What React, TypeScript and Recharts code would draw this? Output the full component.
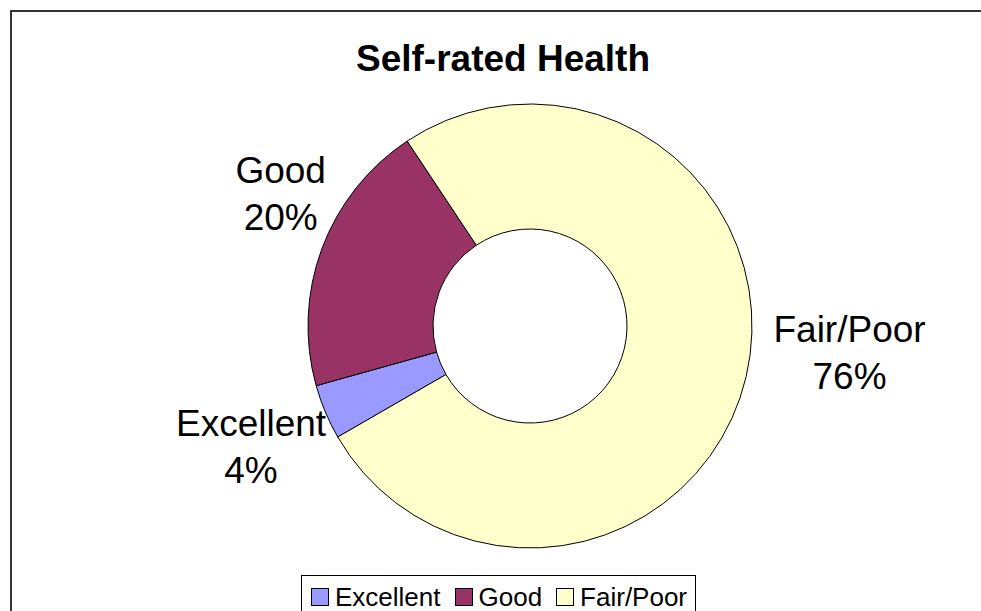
import React from "react";
import { PieChart, Pie, Cell, Legend } from "recharts";

const categories = ["Excellent", "Good", "Fair/Poor"];
const shares = [4, 20, 76];
const colors = ["#9999FF", "#993366", "#FFFFCC"];
const title = "Self-rated Health";

const data = categories.map((name, i) => ({ name, value: shares[i] }));

const FONT = "'Liberation Sans', Arial, Helvetica, sans-serif";
const RAD = Math.PI / 180;
// label layout nudges (Excel-like outside placement)
const LABEL_NUDGE: Record<string, [number, number]> = {
  Excellent: [-19, 25],
  Good: [15, -21],
  "Fair/Poor": [45, -24],
};

const renderLabel = (props: any) => {
  const { cx, cy, midAngle, outerRadius, name, value } = props;
  const r = outerRadius + 60;
  const nudge = LABEL_NUDGE[name] || [0, 0];
  const x = cx + r * Math.cos(-midAngle * RAD) + nudge[0];
  const y = cy + r * Math.sin(-midAngle * RAD) + nudge[1];
  return (
    <text
      x={x}
      y={y}
      textAnchor="middle"
      fontFamily={FONT}
      fontSize={37}
      fill="#000"
    >
      <tspan x={x} y={y - 24}>{name}</tspan>
      <tspan x={x} y={y + 23}>{`${value}%`}</tspan>
    </text>
  );
};

const renderLegend = (props: any) => {
  const payload = [...(props.payload || [])].sort(
    (a: any, b: any) => categories.indexOf(a.value) - categories.indexOf(b.value)
  );
  return (
    <div
      style={{
        boxSizing: "border-box",
        width: 395,
        height: 50,
        border: "1px solid #000",
        background: "#fff",
        display: "flex",
        alignItems: "center",
        paddingLeft: 9,
        alignContent: "flex-start",
      }}
    >
      <div style={{ display: "flex", alignItems: "center", height: 30, marginTop: -6 }}>
        {payload.map((p: any, i: number) => (
          <div key={i} style={{ display: "flex", alignItems: "center", marginRight: 14 }}>
            <span
              style={{
                display: "inline-block",
                boxSizing: "border-box",
                width: 18,
                height: 18,
                background: p.color,
                border: "1px solid #000",
                marginRight: 6,
              }}
            />
            <span style={{ fontFamily: FONT, fontSize: 26, lineHeight: "30px", color: "#000" }}>
              {p.value}
            </span>
          </div>
        ))}
      </div>
    </div>
  );
};

export default function App() {
  return (
    <div style={{ position: "absolute", left: 0, top: 0, width: 981, height: 611, overflow: "hidden", background: "#fff" }}>
      <div
        style={{
          position: "absolute",
          left: 10,
          top: 10,
          width: 1200,
          height: 1200,
          border: "2px solid #333",
        }}
      />
      <svg width={981} height={611} style={{ position: "absolute", left: 0, top: 0 }}>
        <text x={503} y={71} textAnchor="middle" fontFamily={FONT} fontWeight="bold" fontSize={37} fill="#000">
          {title}
        </text>
      </svg>
      <div style={{ position: "absolute", left: 0, top: 0 }}>
        <PieChart width={981} height={611}>
          <Pie
            data={data}
            dataKey="value"
            nameKey="name"
            cx={525}
            cy={321}
            innerRadius={97}
            outerRadius={222}
            startAngle={210}
            endAngle={-150}
            stroke="#000"
            strokeWidth={1}
            label={renderLabel}
            labelLine={false}
            isAnimationActive={false}
          >
            {data.map((d, i) => (
              <Cell key={d.name} fill={colors[i]} />
            ))}
          </Pie>
          <Legend
            content={renderLegend}
            wrapperStyle={{ position: "absolute", left: 301, top: 575, width: 395, bottom: "auto" }}
          />
        </PieChart>
      </div>
    </div>
  );
}
